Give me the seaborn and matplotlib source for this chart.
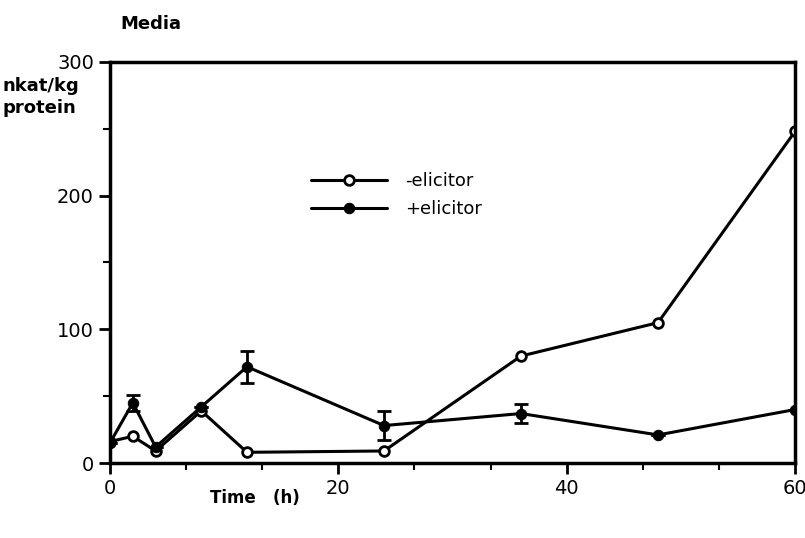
import numpy as np
import pandas as pd
import seaborn as sns
import matplotlib.pyplot as plt
from matplotlib.ticker import MultipleLocator

time_h = [0, 2, 4, 8, 12, 24, 36, 48, 60]
minus_elicitor = [16, 20, 9, 39, 8, 9, 80, 105, 248]
plus_elicitor = [15, 45, 12, 42, 72, 28, 37, 21, 40]
plus_err = [0, 6, 0, 0, 12, 11, 7, 0, 0]

sns.set_theme(style='white')
plt.rcParams['font.family'] = ['DejaVu Sans']
plt.rcParams['text.color'] = 'black'

df = pd.DataFrame({'time': time_h * 2,
                   'value': minus_elicitor + plus_elicitor,
                   'series': ['-elicitor'] * len(time_h) + ['+elicitor'] * len(time_h)})

fig, ax = plt.subplots(figsize=(8.05, 5.38), dpi=100)
fig.subplots_adjust(left=0.1366, right=0.9876, bottom=0.1394, top=0.8848)

sns.lineplot(data=df[df.series == '-elicitor'], x='time', y='value', ax=ax,
             color='black', lw=2.2, marker='o', markersize=7,
             markerfacecolor='white', markeredgecolor='black', markeredgewidth=2,
             label='-elicitor')
sns.lineplot(data=df[df.series == '+elicitor'], x='time', y='value', ax=ax,
             color='black', lw=2.2, marker='o', markersize=7.5,
             markerfacecolor='black', markeredgecolor='black',
             label='+elicitor')
ax.errorbar(time_h, plus_elicitor, yerr=plus_err, fmt='none', ecolor='black',
            elinewidth=2, capsize=5, capthick=2)

ax.set_xlim(0, 60)
ax.set_ylim(0, 300)
ax.xaxis.set_major_locator(MultipleLocator(20))
ax.xaxis.set_minor_locator(MultipleLocator(20 / 3))
ax.yaxis.set_major_locator(MultipleLocator(100))
ax.yaxis.set_minor_locator(MultipleLocator(50))
ax.tick_params(which='major', direction='out', length=8, width=2, color='black',
               labelsize=14, labelcolor='black', bottom=True, left=True)
ax.tick_params(which='minor', direction='out', length=5, width=1.5, color='black',
               bottom=True, left=True)
for s in ax.spines.values():
    s.set_linewidth(2.5)
    s.set_color('black')
    s.set_visible(True)
ax.set_xlabel('')
ax.set_ylabel('')

leg = ax.legend(loc='upper left', bbox_to_anchor=(0.27, 0.765), frameon=False,
                fontsize=13, handlelength=4.2, handletextpad=1.0, labelspacing=0.55)

fig.text(0.15, 0.955, 'Media', fontsize=13, fontweight='bold', ha='left', va='center')
fig.text(0.003, 0.82, 'nkat/kg\nprotein', fontsize=13, fontweight='bold',
         ha='left', va='center', linespacing=1.3)
fig.text(0.317, 0.075, 'Time   (h)', fontsize=12, fontweight='bold', ha='center', va='center')

fig.savefig('out.png', dpi=100)
